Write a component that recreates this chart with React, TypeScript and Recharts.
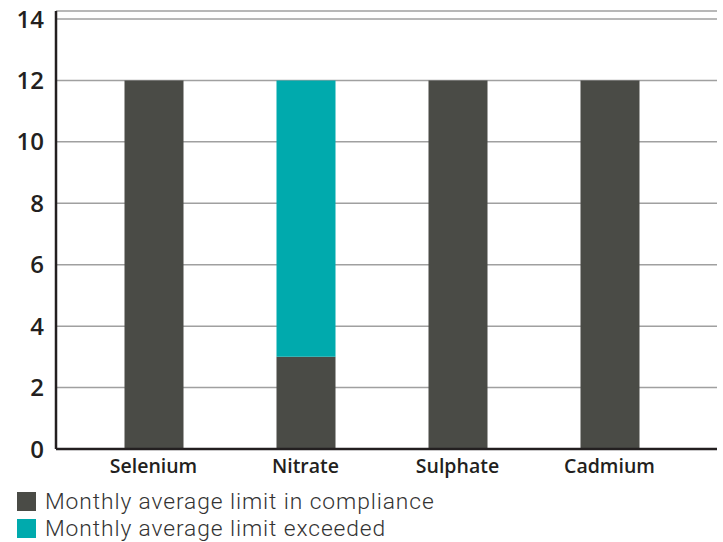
import React from "react";
import { BarChart, Bar, XAxis, YAxis, CartesianGrid, Legend } from "recharts";

const substances = ["Selenium", "Nitrate", "Sulphate", "Cadmium"];
const inCompliance = [12, 3, 12, 12];
const exceeded = [0, 9, 0, 0];
const yTicks = [0, 2, 4, 6, 8, 10, 12, 14];

const seriesNames = ["Monthly average limit in compliance", "Monthly average limit exceeded"];
const seriesColors = ["#4a4b46", "#00aaad"];

const data = substances.map((name, i) => ({
  name,
  compliance: inCompliance[i],
  exceeded: exceeded[i],
}));

const FONT = "'Open Sans', 'Noto Sans', sans-serif";
const LEGEND_FONT = "Roboto, 'Open Sans', sans-serif";

// Legend rows listed top-to-bottom in series order
function LegendBlock() {
  return (
    <div style={{ height: 57, paddingTop: 3, boxSizing: "border-box", fontFamily: LEGEND_FONT }}>
      {seriesNames.map((label, i) => (
        <div key={label} style={{ display: "flex", alignItems: "center", height: 27 }}>
          <div style={{ width: 19, height: 19, marginLeft: 17, background: seriesColors[i] }} />
          <div
            style={{
              marginLeft: 9,
              height: 27,
              fontSize: 22.8,
              letterSpacing: 0.9,
              fontWeight: 300,
              color: "#333333",
              lineHeight: "27px",
              whiteSpace: "nowrap",
            }}
          >
            {label}
          </div>
        </div>
      ))}
    </div>
  );
}

export default function App() {
  return (
    <div style={{ position: "absolute", left: 0, top: 0, background: "#fff" }}>
      <BarChart width={723} height={542} data={data} margin={{ top: 11, right: 6, left: 0, bottom: 0 }}>
        <CartesianGrid vertical={false} stroke="#a0a0a0" strokeWidth={1.5} />
        <XAxis
          dataKey="name"
          padding={{ left: 21.5, right: 31.5 }}
          height={36}
          tickLine={false}
          tickSize={0}
          tickMargin={10}
          axisLine={{ stroke: "#231f20", strokeWidth: 2.5 }}
          tick={{ fill: "#231f20", fontSize: 19.5, fontWeight: 600, fontFamily: FONT }}
        />
        <YAxis
          width={56}
          domain={[0, 14.26]}
          ticks={yTicks}
          interval={0}
          tickLine={false}
          tickSize={0}
          tickMargin={12}
          axisLine={{ stroke: "#231f20", strokeWidth: 2.5 }}
          tick={{ fill: "#231f20", fontSize: 24, fontWeight: 600, fontFamily: FONT }}
        />
        <Legend verticalAlign="bottom" align="left" content={LegendBlock} />
        <Bar dataKey="compliance" name={seriesNames[0]} stackId="a" fill={seriesColors[0]} barSize={59} isAnimationActive={false} />
        <Bar dataKey="exceeded" name={seriesNames[1]} stackId="a" fill={seriesColors[1]} barSize={59} isAnimationActive={false} />
      </BarChart>
    </div>
  );
}
